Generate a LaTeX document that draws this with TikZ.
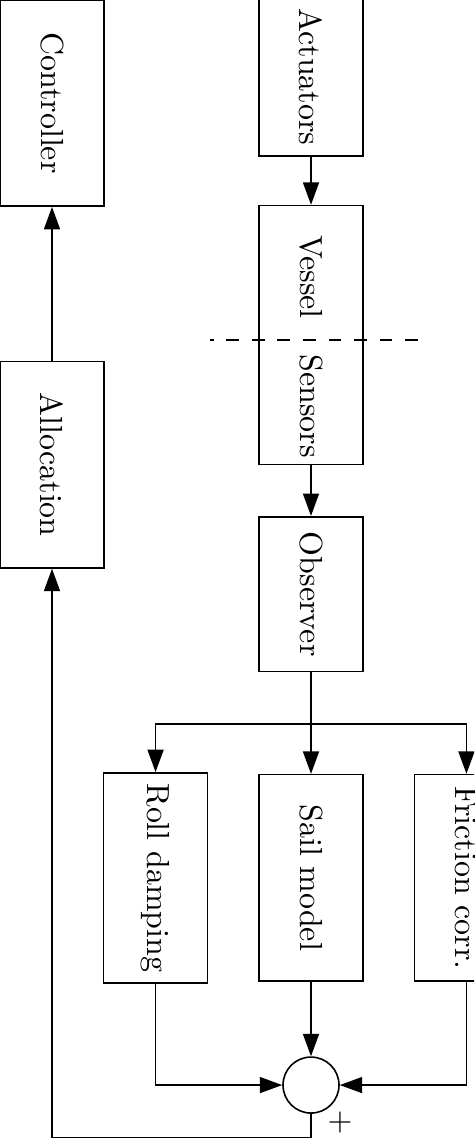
\documentclass[tikz,border=0pt]{standalone}
\usepackage{tikz}
\usetikzlibrary{positioning,arrows.meta}

\begin{document}
\begin{tikzpicture}[x=0.011cm,y=-0.011cm,node distance=2.85cm,
block/.style={
rectangle,
draw,
line width=0.5pt,
rotate=-90,
minimum width=2.27cm,
minimum height=1.144cm
},
word/.style={rotate=-90},
sum/.style={circle,draw,line width=0.5pt,minimum size=0.616cm,inner sep=0pt},
flow/.style={->,>={Triangle[length=7pt,width=5pt]},line width=0.5pt},
]
\useasboundingbox (0,0) rectangle (474,1138);
\clip (0,0) rectangle (474,1138);

\node (controller) at (52,103) [block] {Controller};
\node (allocation) [below of=controller,node distance=3.98cm,block] {Allocation};
\node (actuators) at (311,77) [block,minimum width=1.694cm] {Actuators};
\node (vessel) [below of=actuators,node distance=2.84cm,block,minimum width=2.85cm] {};
\node (vessellbl) [above of=vessel,node distance=0.64cm,word] {Vessel};
\node (sensorslbl) [below of=vessel,node distance=0.78cm,word] {Sensors};
\node (observer) [below of=vessel,block,minimum width=1.705cm] {Observer};
\node (sail) [below of=observer,node distance=3.12cm,block] {Sail model};
\node (roll) [left of=sail,node distance=1.71cm,block] {Roll damping};
\node (friction) [right of=sail,node distance=1.71cm,block] {Friction corr.};
\node (total) [below of=sail,node distance=2.28cm,sum] {};
\node (plus) at (340,1123) {$+$};

\coordinate (split) at (311,724);
\coordinate (back) at (311,1138);
\coordinate (cutL) at (210,340);
\coordinate (cutR) at (418,340);

\draw[dash pattern=on 4pt off 4pt,line width=0.5pt] (cutR) -- (cutL);
\draw[flow] (actuators) -- (vessel);
\draw[flow] (vessel) -- (observer);
\draw[flow] (observer) -- (sail);
\draw[flow] (split) -| (roll);
\draw[flow] (split) -| (friction);
\draw[flow] (roll) |- (total);
\draw[flow] (sail) -- (total);
\draw[flow] (friction) |- (total);
\draw[flow] (total) -- (back) -| (allocation);
\draw[flow] (allocation) -- (controller);
\end{tikzpicture}
\end{document}
